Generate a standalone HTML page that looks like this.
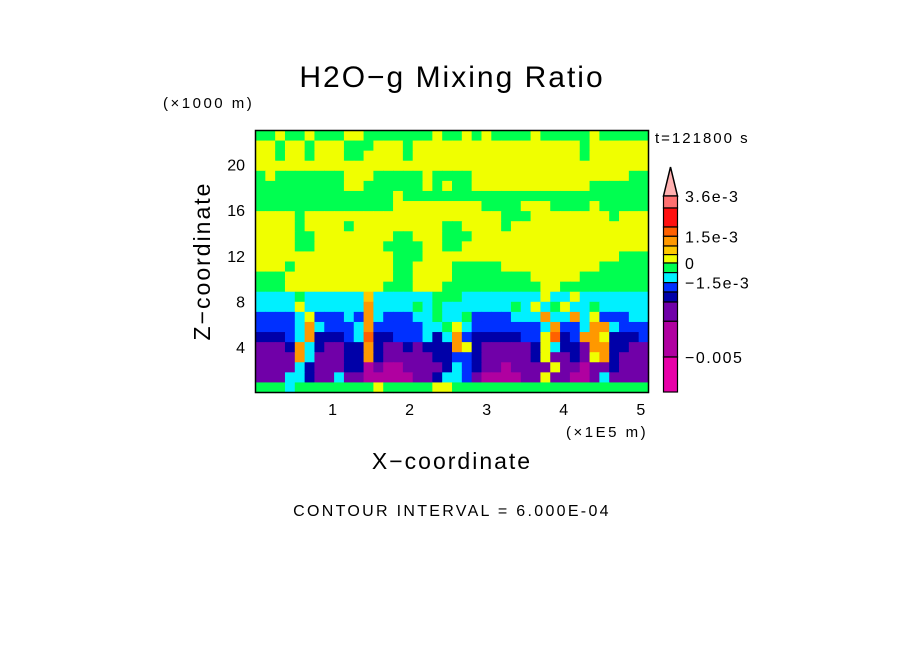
<!DOCTYPE html>
<html><head><meta charset="utf-8"><style>
body{margin:0;background:#fff;}
svg text{font-family:"Liberation Sans",sans-serif;fill:#000;}
</style></head><body>
<svg id="chart" width="904" height="654" viewBox="0 0 904 654" xmlns="http://www.w3.org/2000/svg">
<rect width="904" height="654" fill="#fff"/>
<text x="452" y="87" font-size="30" letter-spacing="2" text-anchor="middle">H2O−g Mixing Ratio</text>
<text x="163" y="108" font-size="15" letter-spacing="2.5">(×1000 m)</text>
<g id="field"></g>
<rect x="255.5" y="130.5" width="393" height="262" fill="none" stroke="#000" stroke-width="1.5"/>
<g id="yticks"></g><g id="xticks"></g>
<text x="566" y="437" font-size="15" letter-spacing="2.5">(×1E5 m)</text>
<text x="452" y="469" font-size="23" letter-spacing="2" text-anchor="middle">X−coordinate</text>
<text transform="translate(210,261) rotate(-90)" font-size="23" letter-spacing="2" text-anchor="middle">Z−coordinate</text>
<text x="655" y="143" font-size="15" letter-spacing="2">t=121800 s</text>
<g id="cbar"></g>
<text x="452" y="516" font-size="16" letter-spacing="2.3" text-anchor="middle">CONTOUR INTERVAL = 6.000E-04</text>
</svg>
<script>
const NS="http://www.w3.org/2000/svg";
const xTicks=[1,2,3,4,5];
const yTicks=[4,8,12,16,20];
const xMax=5.1, zMax=23;
const cbLabels=["3.6e-3","1.5e-3","0","−1.5e-3","−0.005"];
const cbLabelIdx=[0,3,6,8,12];
const palette={K:"#ffb0b0",S:"#ff7070",R:"#ff1010",D:"#ff6000",O:"#ff9800",A:"#ffc800",Y:"#f0ff00",G:"#00ff50",C:"#00f0ff",B:"#0030ff",N:"#0000a8",P:"#7000a8",M:"#b000a0",Q:"#e800a8"};
const cbColors=["S","R","D","O","A","Y","G","C","B","N","P","M","Q"];
const cbHeights=[12,19,9.3,9.7,8.6,8.4,9.6,10,9.4,10,19.3,35.7,35];
const gridRows=[
"GGYGGYGGGYYGGGGGGGYGGYGYGGGGYGGGGGYGGGGG",
"YYGYYGYYYGGGYYYGYYYYYYYYYYYYYYYYYGYYYYYY",
"YYGYYGYYYGGYYYYGYYYYYYYYYYYYYYYYYGYYYYYY",
"YYYYYYYYYYYYYYYYYYYYYYYYYYYYYYYYYYYYYYYY",
"GYGGGGGGGYYYGGGGGYGGGGYYYYYYYYYYYYYYYYGG",
"GGGGGGGGGYYGGGGGGYGYGGYYYYYYYYYYYYGGGGGG",
"GGGGGGGGGGGGGGYGGGGGGGGGGGGGGGGGGGGGGGGG",
"GGGGGGGGGGGGGGYYYYYYYYYGGGGYYYGGGGYGGGGG",
"YYYYGYYYYYYYYYYYYYYYYYYYYGGGYYYYYYYYGYYY",
"YYYYGYYYYGYYYYYYYYYGGYYYYGYYYYYYYYYYYYYY",
"YYYYGGYYYYYYYYGGYYYGGGYYYYYYYYYYYYYYYYYY",
"YYYYGGYYYYYYYGGGGYYGGYYYYYYYYYYYYYYYYYYY",
"YYYYYYYYYYYYYYGGGYYYYYYYYYYYYYYYYYYYYGGG",
"YYYGYYYYYYYYYYGGYYYYGGGGGYYYYYYYYYYGGGGG",
"GGGYYYYYYYYYYYGGYYYYGGGGGGGGYYYYYGGGGGGG",
"GGGYYYYYYYYYYGGGYYYGGGGGGGGGGYYGGGGGGGGG",
"CCCCGCCCCCCACCCCCCGGGCCCCCCCCYCCYCCCCCCC",
"CCCCYCCCCCCOCCCCGCGCCCCCCCGCYCGYCCGCCCCC",
"BBBBCYBBBCBOCBBBCCGCCGBBBBCCCOCCOCYBBBCC",
"BBBBCOCBBBCOBBBBBCCGYCBBBBBBBCOBBCOOCBBB",
"NNNBCONNNBCDNNBBBCNCOBNNNNNBBYDNBOOYNNNB",
"PPPNOCNPPNNONPPNPNNNOYNPPPPPNYCNNPOONNPP",
"PPPPOCPPPNNONPPPPPNNBBNPPPPPNYPPNPYONPPP",
"PPPPCNPPPNNMPMMPPPPNCBNPPMPPPPYPPMPPNPPP",
"PPPCCNPPCPPMMMMMPPNCCBPMMMMPPYPPMMPCPPPP",
"GGGCGGGGGGGGYGGGGGYYGGGGGGGGGGGGGGGGGGGG"];
const X0=255.5,X1=648.5,Y0=130.5,Y1=392.5;
const sx=v=>X0+v/xMax*(X1-X0);
const sz=v=>Y1-v/zMax*(Y1-Y0);
const field=document.getElementById('field');
const nr=gridRows.length, nc=40;
const cw=(X1-X0)/nc, ch=(Y1-Y0)/nr;
gridRows.forEach((row,r)=>{
  for(let c=0;c<nc;c++){
    const k=row[c]||'G';
    const rect=document.createElementNS(NS,'rect');
    
    
    rect.setAttribute('x',X0+c*cw);rect.setAttribute('y',Y0+r*ch);
    rect.setAttribute('width',cw+0.6);rect.setAttribute('height',ch+0.6);
    rect.setAttribute('fill',palette[k]);
    field.appendChild(rect);
  }
});
const yt=document.getElementById('yticks');
yTicks.forEach(v=>{
  const t=document.createElementNS(NS,'text');
  
  
  t.setAttribute('x',245);t.setAttribute('y',sz(v)+6);
  t.setAttribute('font-size','16');t.setAttribute('text-anchor','end');
  t.textContent=v;yt.appendChild(t);
});
const xt=document.getElementById('xticks');
xTicks.forEach(v=>{
  const t=document.createElementNS(NS,'text');
  
  
  t.setAttribute('x',sx(v));t.setAttribute('y',415);
  t.setAttribute('font-size','16');t.setAttribute('text-anchor','middle');
  t.textContent=v;xt.appendChild(t);
});
const cb=document.getElementById('cbar');
const cx=663.5,cwid=14;
const tri=document.createElementNS(NS,'path');


tri.setAttribute('d',`M${cx} 196 L${cx+cwid/2} 167 L${cx+cwid} 196 Z`);
tri.setAttribute('fill',palette.K);tri.setAttribute('stroke','#000');tri.setAttribute('stroke-width','1.5');
cb.appendChild(tri);
let y=196;
const bounds=[];
cbColors.forEach((k,i)=>{
  const h=cbHeights[i];
  const rect=document.createElementNS(NS,'rect');
  
  
  rect.setAttribute('x',cx);rect.setAttribute('y',y);
  rect.setAttribute('width',cwid);rect.setAttribute('height',h);
  rect.setAttribute('fill',palette[k]);rect.setAttribute('stroke','#000');rect.setAttribute('stroke-width','1.2');
  cb.appendChild(rect);bounds.push(y);y+=h;
});
bounds.push(y);
cbLabels.forEach((s,i)=>{
  const t=document.createElementNS(NS,'text');
  
  
  t.setAttribute('x',685);t.setAttribute('y',bounds[cbLabelIdx[i]]+6);
  t.setAttribute('font-size','16');t.setAttribute('letter-spacing','1.5');
  t.textContent=s;cb.appendChild(t);
});
</script>
</body></html>
